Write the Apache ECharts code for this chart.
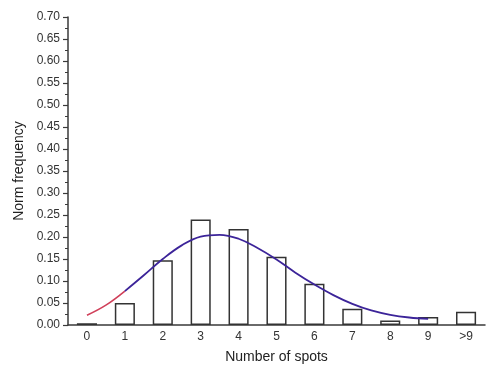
<!DOCTYPE html>
<html><head><meta charset="utf-8">
<script src="https://cdn.jsdelivr.net/npm/echarts@6/dist/echarts.min.js"></script>
<style>html,body{margin:0;padding:0;background:#fff}#c{width:486px;height:374px}</style>
</head><body><div id="c"></div>
<script>
var categories = ['0','1','2','3','4','5','6','7','8','9','>9'];
var barValues = [0.004,0.050,0.147,0.240,0.218,0.155,0.094,0.037,0.010,0.018,0.030];
var yTicks = [0,0.05,0.10,0.15,0.20,0.25,0.30,0.35,0.40,0.45,0.50,0.55,0.60,0.65,0.70];
var fitX = [0,0.5,1,1.5,2,2.5,3,3.5,4,4.5,5,5.5,6,6.5,7,7.5,8,8.5,9];
var fitY = [0.022,0.045,0.077,0.113,0.150,0.181,0.201,0.205,0.196,0.175,0.149,0.119,0.092,0.068,0.048,0.033,0.023,0.017,0.014];
var redEnd = 3; // points belonging to the red start of the fit (x = 0 .. 1)

var fitAll = fitX.map(function(x,i){return [x, fitY[i]];});
var fitRed = fitAll.slice(0, redEnd);
var fitPurple = fitAll.slice(redEnd - 1);

var chart = echarts.init(document.getElementById('c'));
var axisColor = '#3a3a3a';
var font = 'Liberation Sans, Arial, sans-serif';
chart.setOption({
  animation: false,
  grid: {left: 68, right: 1, top: 17, bottom: 49, containLabel: false, outerBoundsMode: 'none'},
  xAxis: [
    {type: 'category', data: categories, boundaryGap: true,
     name: 'Number of spots', nameLocation: 'middle', nameGap: 25, nameMoveOverlap: false,
     nameTextStyle: {fontFamily: font, fontSize: 14, color: '#222'},
     axisLine: {onZero: false, lineStyle: {color: axisColor, width: 1.5}},
     axisTick: {alignWithLabel: true, length: 5, lineStyle: {color: axisColor, width: 1.2}},
     axisLabel: {fontFamily: font, fontSize: 12, color: '#333', margin: 6},
     splitLine: {show: false}},
    {type: 'category', data: categories, boundaryGap: true, position: 'bottom',
     axisLine: {show: false, onZero: false}, axisLabel: {show: false},
     axisTick: {alignWithLabel: false, length: 3, lineStyle: {color: axisColor, width: 1}},
     splitLine: {show: false}},
    {type: 'value', min: -0.5, max: 10.5, show: false, position: 'bottom',
     axisLine: {onZero: false}}
  ],
  yAxis: {
    type: 'value', min: yTicks[0], max: yTicks[yTicks.length-1], interval: 0.05,
    name: 'Norm frequency', nameLocation: 'middle', nameGap: 42, nameMoveOverlap: false,
    nameTextStyle: {fontFamily: font, fontSize: 14, color: '#222'},
    axisLine: {show: true, onZero: false, lineStyle: {color: axisColor, width: 1.5}},
    axisTick: {show: true, length: 5, lineStyle: {color: axisColor, width: 1.2}},
    minorTick: {show: true, splitNumber: 2, length: 3, lineStyle: {color: axisColor, width: 1}},
    axisLabel: {fontFamily: font, fontSize: 12, color: '#333', margin: 8,
      formatter: function(v){return v.toFixed(2);}},
    splitLine: {show: false}
  },
  series: [
    {type: 'bar', xAxisIndex: 0, data: barValues, barWidth: '53%',
     itemStyle: {color: '#ffffff', borderColor: '#333', borderWidth: 1.5}},
    {type: 'line', xAxisIndex: 2, data: fitRed, smooth: 0.4, symbol: 'none',
     lineStyle: {color: '#d0405a', width: 1.6}},
    {type: 'line', xAxisIndex: 2, data: fitPurple, smooth: 0.4, symbol: 'none',
     lineStyle: {color: '#3c2499', width: 1.8}}
  ]
});
</script></body></html>
